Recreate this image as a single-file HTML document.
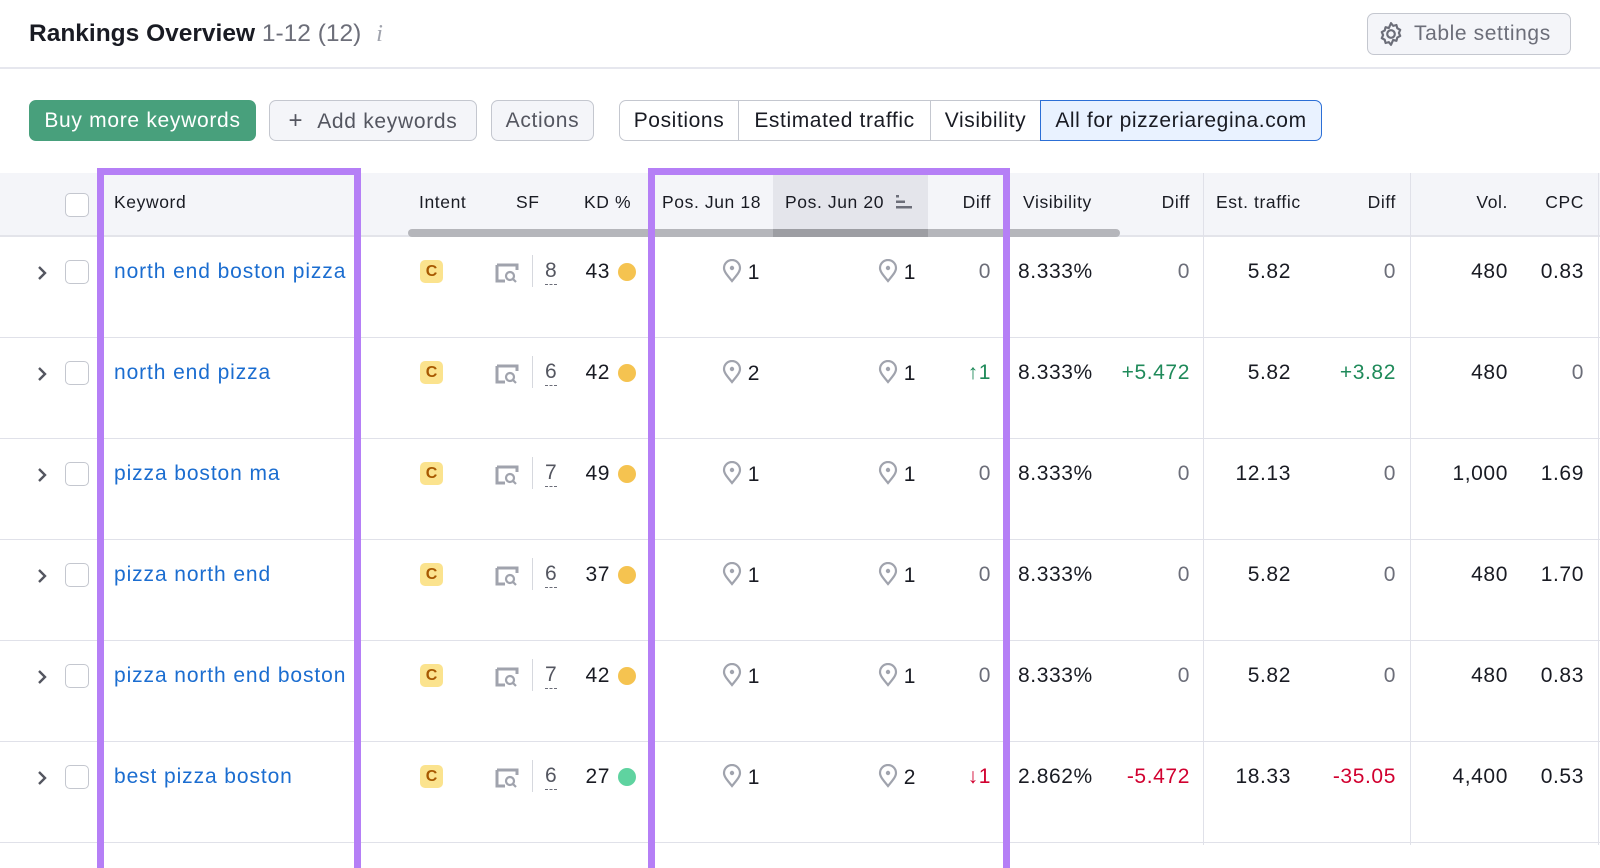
<!DOCTYPE html>
<html><head><meta charset="utf-8"><style>
*{box-sizing:border-box;margin:0;padding:0}
body{width:1600px;height:845px;background:#fff;font-family:"Liberation Sans",sans-serif;color:#191b23;position:relative;overflow:hidden}
.a{position:absolute;white-space:nowrap}
.btn{position:absolute;top:100px;height:41px;border-radius:7px;font-size:21px;letter-spacing:0.7px;line-height:39px;text-align:center;border:1px solid #c4c7cf;background:#f4f5f9;color:#545660}
.seg{position:absolute;top:100px;height:41px;font-size:21px;letter-spacing:0.6px;line-height:39px;text-align:center;border:1px solid #c4c7cf;background:#fff;color:#191b23}
.hd{position:absolute;top:190px;font-size:17.5px;letter-spacing:0.6px;line-height:24px;color:#191b23;white-space:nowrap}
.row{position:absolute;left:0;width:1600px;height:101px;border-bottom:1px solid #e0e1e9}
.row .c{position:absolute;top:22px;height:26px;line-height:26px;font-size:21px;letter-spacing:0.6px;white-space:nowrap}
.r{text-align:right}
.kw{color:#1b6dd0;letter-spacing:0.9px!important}
.g{color:#1f8a5a}.rd{color:#d1002f}
.cb{position:absolute;width:24px;height:24px;border:1.5px solid #c4c7cf;border-radius:5px;background:#fff}
.badge{position:absolute;left:420px;top:23px;width:23px;height:23px;border-radius:5px;background:#fbe38e;color:#a75800;font-weight:bold;font-size:16px;line-height:23px;text-align:center}
.dot{position:absolute;left:618px;top:26px;width:18px;height:18px;border-radius:50%;background:#f5c350}
.vl{position:absolute;top:173px;width:1px;height:672px;background:#e0e1e9}
</style></head><body>
<div class="a" style="left:0;top:67px;width:1600px;height:2px;background:#e6e7ee"></div>
<div class="a" style="left:29px;top:18px;font-size:24.5px;line-height:32px"><b>Rankings Overview</b> <span style="color:#6c6e79">1-12 (12)</span> <i style="color:#a0a3ad;font-family:'Liberation Serif',serif;margin-left:8px">i</i></div>
<div class="a" style="left:1367px;top:13px;width:204px;height:42px;border:1px solid #c4c7cf;border-radius:7px;background:#f4f5f9"></div>
<svg class="a" style="left:1378px;top:21px" width="26" height="26" viewBox="0 0 24 24"><circle cx="12" cy="12" r="3.5" fill="none" stroke="#6c6e79" stroke-width="2"/><path d="M12 2l2 2.5 3-.8.8 3 2.7 1.5-1.2 2.8 1.2 2.8-2.7 1.5-.8 3-3-.8L12 22l-2-2.5-3 .8-.8-3-2.7-1.5L4.7 13 3.5 10.2l2.7-1.5.8-3 3 .8z" fill="none" stroke="#6c6e79" stroke-width="2" stroke-linejoin="round"/></svg>
<div class="a" style="left:1414px;top:21px;font-size:21px;letter-spacing:0.6px;line-height:26px;color:#6c6e79">Table settings</div>

<div class="btn" style="left:29px;width:227px;background:#48a07c;border-color:#48a07c;color:#fff">Buy more keywords</div>
<div class="btn" style="left:269px;width:208px"><span style="font-size:24px;margin-right:14px">+</span>Add keywords</div>
<div class="btn" style="left:491px;width:103px">Actions</div>
<div class="seg" style="left:619px;width:120px;border-radius:7px 0 0 7px">Positions</div>
<div class="seg" style="left:738px;width:193px">Estimated traffic</div>
<div class="seg" style="left:930px;width:111px">Visibility</div>
<div class="seg" style="left:1040px;width:282px;background:#e9f2ff;border:1.5px solid #2c6fd6;border-radius:0 7px 7px 0">All for pizzeriaregina.com</div>

<div class="a" style="left:0;top:173px;width:1600px;height:64px;background:#f4f5f9;border-bottom:2px solid #e3e4ea"></div>
<div class="a" style="left:773px;top:173px;width:155px;height:62px;background:#e4e5eb"></div>
<div class="a" style="left:408px;top:229px;width:712px;height:8px;border-radius:4px;background:#b5b6bb"></div>
<div class="a" style="left:773px;top:229px;width:155px;height:8px;background:#9d9ea3"></div>
<div class="cb" style="left:65px;top:193px"></div>
<div class="hd" style="left:114px">Keyword</div>
<div class="hd" style="left:419px">Intent</div>
<div class="hd" style="left:516px">SF</div>
<div class="hd" style="left:584px">KD %</div>
<div class="hd" style="left:662px">Pos. Jun 18</div>
<div class="hd" style="left:785px">Pos. Jun 20</div>
<svg class="a" style="left:896px;top:194px" width="18" height="16"><rect x="0" y="1" width="3" height="2.5" fill="#6c6e79"/><rect x="0" y="6.5" width="9" height="2.5" fill="#6c6e79"/><rect x="0" y="12" width="16" height="2.5" fill="#6c6e79"/></svg>
<div class="hd r" style="right:609px">Diff</div>
<div class="hd" style="left:1023px">Visibility</div>
<div class="hd r" style="right:410px">Diff</div>
<div class="hd" style="left:1216px">Est. traffic</div>
<div class="hd r" style="right:204px">Diff</div>
<div class="hd r" style="right:92px">Vol.</div>
<div class="hd r" style="right:16px">CPC</div>

<div class="vl" style="left:1203px"></div>
<div class="vl" style="left:1410px"></div>
<div class="vl" style="left:1598px"></div>

<div id="rows"></div>
<script>
var d=[["north end boston pizza","8","43",0,"1","1","0","","8.333%","0","","5.82","0","","480","0.83"],
["north end pizza","6","42",0,"2","1","↑1","g","8.333%","+5.472","g","5.82","+3.82","g","480","0"],
["pizza boston ma","7","49",0,"1","1","0","","8.333%","0","","12.13","0","","1,000","1.69"],
["pizza north end","6","37",0,"1","1","0","","8.333%","0","","5.82","0","","480","1.70"],
["pizza north end boston","7","42",0,"1","1","0","","8.333%","0","","5.82","0","","480","0.83"],
["best pizza boston","6","27",1,"1","2","↓1","rd","2.862%","-5.472","rd","18.33","-35.05","rd","4,400","0.53"]];
var pin='<svg width="20" height="24" viewBox="0 0 20 24" style="vertical-align:-4px;margin-right:6px"><path d="M10 22C5 16 2 12.5 2 9a8 8 0 0116 0c0 3.5-3 7-8 13z" fill="none" stroke="#a0a3ad" stroke-width="2.2"/><circle cx="10" cy="9" r="2.2" fill="#a0a3ad"/></svg>';
var sf='<svg width="24" height="22" viewBox="0 0 24 22"><path d="M2 3h20v5M2 3v16h8" fill="none" stroke="#a0a3ad" stroke-width="3"/><circle cx="15" cy="14" r="4" fill="none" stroke="#a0a3ad" stroke-width="2.2"/><path d="M18 17l3 3" stroke="#a0a3ad" stroke-width="2.2"/></svg>';
var chev='<svg width="12" height="18" viewBox="0 0 12 18"><path d="M3 3l6 6-6 6" fill="none" stroke="#545660" stroke-width="2.4"/></svg>';
var h='';
d.forEach(function(r,i){
h+='<div class="row" style="top:'+(237+101*i)+'px">'+
'<div class="c" style="left:36px;top:26px">'+chev+'</div>'+
'<div class="cb" style="left:65px;top:23px"></div>'+
'<div class="c kw" style="left:114px">'+r[0]+'</div>'+
'<div class="badge">C</div>'+
'<div class="c" style="left:495px;top:25px">'+sf+'</div>'+
'<div class="a" style="left:532px;top:18px;width:1px;height:32px;background:#d6d8de"></div>'+
'<div class="c" style="left:545px;color:#545660;border-bottom:1.5px dashed #6c6e79;line-height:24px">'+r[1]+'</div>'+
'<div class="c r" style="right:990px">'+r[2]+'</div>'+
'<div class="dot" style="'+(r[3]?'background:#5fd3a0':'')+'"></div>'+
'<div class="c r" style="right:840px">'+pin+r[4]+'</div>'+
'<div class="c r" style="right:684px">'+pin+r[5]+'</div>'+
'<div class="c r '+r[7]+'" style="right:609px;'+(r[7]?'':'color:#6c6e79')+'">'+r[6]+'</div>'+
'<div class="c" style="left:1018px">'+r[8]+'</div>'+
'<div class="c r '+r[10]+'" style="right:410px;'+(r[10]?'':'color:#6c6e79')+'">'+r[9]+'</div>'+
'<div class="c r" style="right:309px">'+r[11]+'</div>'+
'<div class="c r '+r[13]+'" style="right:204px;'+(r[13]?'':'color:#6c6e79')+'">'+r[12]+'</div>'+
'<div class="c r" style="right:92px">'+r[14]+'</div>'+
'<div class="c r" style="right:16px;'+(r[15]=="0"?'color:#6c6e79':'')+'">'+r[15]+'</div>'+
'</div>';});
document.getElementById('rows').innerHTML=h;
</script>
<div class="a" style="left:97px;top:168px;width:264px;height:700px;border:7px solid #b57ff6;border-bottom:none"></div>
<div class="a" style="left:648px;top:168px;width:362px;height:700px;border:7px solid #b57ff6;border-bottom:none"></div>
</body></html>
